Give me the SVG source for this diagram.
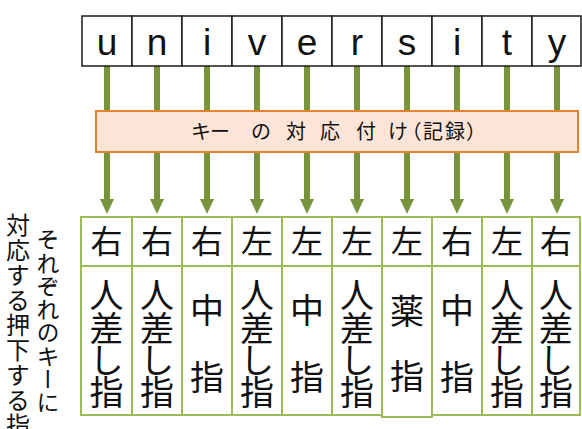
<svg xmlns="http://www.w3.org/2000/svg" width="582" height="429" viewBox="0 0 582 429">
<style>
.key{fill:#fff;stroke:#1a1a1a;stroke-width:1.5}
.kt{font-family:"Liberation Sans","DejaVu Sans",sans-serif;font-size:37px;fill:#111;text-anchor:middle}
.cell{fill:#fff;stroke:#9BBB59;stroke-width:2}
.jp{font-family:"Noto Sans CJK JP","Noto Sans CJK SC",sans-serif;fill:#111;text-anchor:middle}
.hand{font-size:32px}
.fin{font-size:34px}
.conn{stroke:#77933C;stroke-width:6;fill:none}
.head{fill:#77933C}
.vt{font-family:"Noto Sans CJK JP","Noto Sans CJK SC",sans-serif;fill:#111;writing-mode:vertical-rl}
</style>
<rect width="582" height="429" fill="#fff"/>

<g id="connectors">
  <g class="conn">
    <line x1="107" y1="66" x2="107" y2="112"/><line x1="157" y1="66" x2="157" y2="112"/>
    <line x1="207" y1="66" x2="207" y2="112"/><line x1="257" y1="66" x2="257" y2="112"/>
    <line x1="307" y1="66" x2="307" y2="112"/><line x1="357" y1="66" x2="357" y2="112"/>
    <line x1="407" y1="66" x2="407" y2="112"/><line x1="457" y1="66" x2="457" y2="112"/>
    <line x1="507" y1="66" x2="507" y2="112"/><line x1="557" y1="66" x2="557" y2="112"/>
    <line x1="107" y1="152" x2="107" y2="201"/><line x1="157" y1="152" x2="157" y2="201"/>
    <line x1="207" y1="152" x2="207" y2="201"/><line x1="257" y1="152" x2="257" y2="201"/>
    <line x1="307" y1="152" x2="307" y2="201"/><line x1="357" y1="152" x2="357" y2="201"/>
    <line x1="407" y1="152" x2="407" y2="201"/><line x1="457" y1="152" x2="457" y2="201"/>
    <line x1="507" y1="152" x2="507" y2="201"/><line x1="557" y1="152" x2="557" y2="201"/>
  </g>
  <g class="head">
    <polygon points="100,199 114,199 107,214"/><polygon points="150,199 164,199 157,214"/>
    <polygon points="200,199 214,199 207,214"/><polygon points="250,199 264,199 257,214"/>
    <polygon points="300,199 314,199 307,214"/><polygon points="350,199 364,199 357,214"/>
    <polygon points="400,199 414,199 407,214"/><polygon points="450,199 464,199 457,214"/>
    <polygon points="500,199 514,199 507,214"/><polygon points="550,199 564,199 557,214"/>
  </g>
</g>

<g id="keys">
  <g id="key-u"><rect class="key" x="82" y="16" width="50" height="50"/><text class="kt" x="107" y="55">u</text></g>
  <g id="key-n"><rect class="key" x="132" y="16" width="50" height="50"/><text class="kt" x="157" y="55">n</text></g>
  <g id="key-i1"><rect class="key" x="182" y="16" width="50" height="50"/><text class="kt" x="207" y="55">i</text></g>
  <g id="key-v"><rect class="key" x="232" y="16" width="50" height="50"/><text class="kt" x="257" y="55">v</text></g>
  <g id="key-e"><rect class="key" x="282" y="16" width="50" height="50"/><text class="kt" x="307" y="55">e</text></g>
  <g id="key-r"><rect class="key" x="332" y="16" width="50" height="50"/><text class="kt" x="357" y="55">r</text></g>
  <g id="key-s"><rect class="key" x="382" y="16" width="50" height="50"/><text class="kt" x="407" y="55">s</text></g>
  <g id="key-i2"><rect class="key" x="432" y="16" width="50" height="50"/><text class="kt" x="457" y="55">i</text></g>
  <g id="key-t"><rect class="key" x="482" y="16" width="50" height="50"/><text class="kt" x="507" y="55">t</text></g>
  <g id="key-y"><rect class="key" x="532" y="16" width="49" height="50"/><text class="kt" x="557" y="55">y</text></g>
</g>

<g id="mapping">
  <rect x="96" y="111" width="482" height="41" fill="#FCE4D6" stroke="#E8812F" stroke-width="2"/>
  <text class="jp" style="font-size:20px;text-anchor:start" x="191 210 251 286 320 356 388 401.5 423 445 466" y="139">キーの対応付け（記録）</text>
</g>

<g id="fingers">
  <g id="f1"><rect class="cell" x="81" y="217" width="51" height="49"/><rect class="cell" x="81" y="266" width="51" height="149"/>
    <text class="jp hand" x="106.5" y="253">右</text>
    <text class="jp fin"><tspan x="106.5" y="308">人</tspan><tspan x="106.5" y="341">差</tspan><tspan x="106.5" y="373">し</tspan><tspan x="106.5" y="405">指</tspan></text></g>
  <g id="f2"><rect class="cell" x="132" y="217" width="50" height="49"/><rect class="cell" x="132" y="266" width="50" height="149"/>
    <text class="jp hand" x="157" y="253">右</text>
    <text class="jp fin"><tspan x="157" y="308">人</tspan><tspan x="157" y="341">差</tspan><tspan x="157" y="373">し</tspan><tspan x="157" y="405">指</tspan></text></g>
  <g id="f3"><rect class="cell" x="182" y="217" width="50" height="49"/><rect class="cell" x="182" y="266" width="50" height="149"/>
    <text class="jp hand" x="207" y="253">右</text>
    <text class="jp fin"><tspan x="207" y="323">中</tspan><tspan x="207" y="390">指</tspan></text></g>
  <g id="f4"><rect class="cell" x="232" y="217" width="50" height="49"/><rect class="cell" x="232" y="266" width="50" height="149"/>
    <text class="jp hand" x="257" y="253">左</text>
    <text class="jp fin"><tspan x="257" y="308">人</tspan><tspan x="257" y="341">差</tspan><tspan x="257" y="373">し</tspan><tspan x="257" y="405">指</tspan></text></g>
  <g id="f5"><rect class="cell" x="282" y="217" width="50" height="49"/><rect class="cell" x="282" y="266" width="50" height="149"/>
    <text class="jp hand" x="307" y="253">左</text>
    <text class="jp fin"><tspan x="307" y="323">中</tspan><tspan x="307" y="390">指</tspan></text></g>
  <g id="f6"><rect class="cell" x="332" y="217" width="50" height="49"/><rect class="cell" x="332" y="266" width="50" height="149"/>
    <text class="jp hand" x="357" y="253">左</text>
    <text class="jp fin"><tspan x="357" y="308">人</tspan><tspan x="357" y="341">差</tspan><tspan x="357" y="373">し</tspan><tspan x="357" y="405">指</tspan></text></g>
  <g id="f7"><rect class="cell" x="382" y="217" width="50" height="49"/><rect class="cell" x="382" y="266" width="50" height="151"/>
    <text class="jp hand" x="407" y="253">左</text>
    <text class="jp fin"><tspan x="407" y="324">薬</tspan><tspan x="407" y="389">指</tspan></text></g>
  <g id="f8"><rect class="cell" x="432" y="217" width="50" height="49"/><rect class="cell" x="432" y="266" width="50" height="149"/>
    <text class="jp hand" x="457" y="253">右</text>
    <text class="jp fin"><tspan x="457" y="323">中</tspan><tspan x="457" y="390">指</tspan></text></g>
  <g id="f9"><rect class="cell" x="482" y="217" width="50" height="49"/><rect class="cell" x="482" y="266" width="50" height="149"/>
    <text class="jp hand" x="507" y="253">左</text>
    <text class="jp fin"><tspan x="507" y="308">人</tspan><tspan x="507" y="341">差</tspan><tspan x="507" y="373">し</tspan><tspan x="507" y="405">指</tspan></text></g>
  <g id="f10"><rect class="cell" x="532" y="217" width="48" height="49"/><rect class="cell" x="532" y="266" width="48" height="149"/>
    <text class="jp hand" x="556" y="253">右</text>
    <text class="jp fin"><tspan x="556" y="308">人</tspan><tspan x="556" y="341">差</tspan><tspan x="556" y="373">し</tspan><tspan x="556" y="405">指</tspan></text></g>
</g>

<g id="side-label">
  <text class="vt" x="18" y="213" style="font-size:24px;letter-spacing:1px">対応する押下する指</text>
  <text class="vt" x="48" y="228" style="font-size:23px;letter-spacing:0.3px">それぞれのキーに</text>
</g>
</svg>
